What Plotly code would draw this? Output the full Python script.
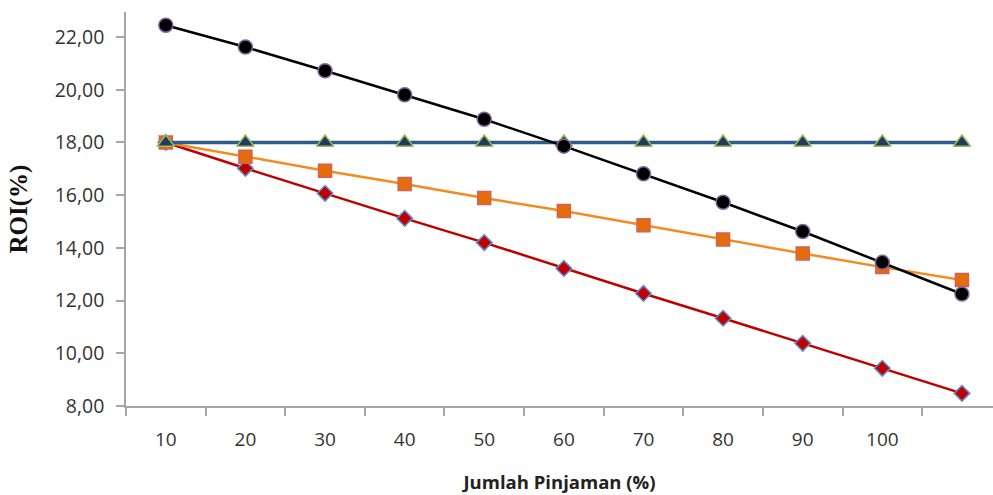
import plotly.graph_objects as go

categories = ["10", "20", "30", "40", "50", "60", "70", "80", "90", "100", " "]
black_vals = [22.45, 21.62, 20.72, 19.81, 18.88, 17.86, 16.81, 15.73, 14.62, 13.45, 12.25]
blue_vals = [18.00, 18.00, 18.00, 18.00, 18.00, 18.00, 18.00, 18.00, 18.00, 18.00, 18.00]
orange_vals = [18.00, 17.46, 16.93, 16.42, 15.89, 15.40, 14.86, 14.32, 13.79, 13.27, 12.78]
red_vals = [18.00, 17.02, 16.07, 15.12, 14.20, 13.22, 12.27, 11.33, 10.38, 9.43, 8.48]
y_ticks = [8, 10, 12, 14, 16, 18, 20, 22]

fig = go.Figure()
fig.add_trace(go.Scatter(x=categories, y=red_vals, mode="lines+markers",
                         line=dict(color="#C00000", width=2.5),
                         marker=dict(symbol="diamond", size=12, color="#C00000",
                                     line=dict(color="#5B8FD0", width=1.5))))
fig.add_trace(go.Scatter(x=categories, y=orange_vals, mode="lines+markers",
                         line=dict(color="#F28C1E", width=2.5),
                         marker=dict(symbol="square", size=13, color="#E46C0A",
                                     line=dict(color="#D0625A", width=1.5))))
fig.add_trace(go.Scatter(x=categories, y=blue_vals, mode="lines+markers",
                         line=dict(color="#2F5A8C", width=3.5),
                         marker=dict(symbol="triangle-up", size=15, color="#1F3B5E",
                                     line=dict(color="#9BBB59", width=1.5))))
fig.add_trace(go.Scatter(x=categories, y=black_vals, mode="lines+markers",
                         line=dict(color="#000000", width=2.5),
                         marker=dict(symbol="circle", size=14, color="#000000",
                                     line=dict(color="#8064A2", width=1.5))))

fig.update_layout(
    width=993, height=495,
    margin=dict(l=126, r=0, t=12, b=89),
    paper_bgcolor="white", plot_bgcolor="white",
    showlegend=False,
    separators=",.",
    font=dict(family="Open Sans", color="#333333"),
)
fig.update_xaxes(
    type="category", categoryorder="array", categoryarray=categories,
    range=[-0.5, 10.39], tickson="boundaries",
    showline=True, linecolor="#A6A6A6", linewidth=1.5,
    ticks="outside", ticklen=8, tickcolor="#A6A6A6", tickwidth=1.5,
    tickfont=dict(size=19, family="Open Sans", color="#333333"),
    ticklabelstandoff=15,
    showgrid=False, zeroline=False,
    title=dict(text="Jumlah Pinjaman (%)", font=dict(size=18.5, family="Open Sans", color="#222222", weight="bold"),
               standoff=26),
)
fig.update_yaxes(
    range=[8, 22.95], tickvals=y_ticks, tickformat=".2f",
    showline=True, linecolor="#A6A6A6", linewidth=1.5,
    ticks="outside", ticklen=8, tickcolor="#A6A6A6", tickwidth=1.5,
    tickfont=dict(size=19.5, family="Open Sans", color="#333333"),
    ticklabelstandoff=8,
    showgrid=False, zeroline=False,
    title=dict(text="ROI(%)", font=dict(size=25, family="Liberation Serif", color="#111111", weight="bold"),
               standoff=20),
)
fig.write_html("out.html")
